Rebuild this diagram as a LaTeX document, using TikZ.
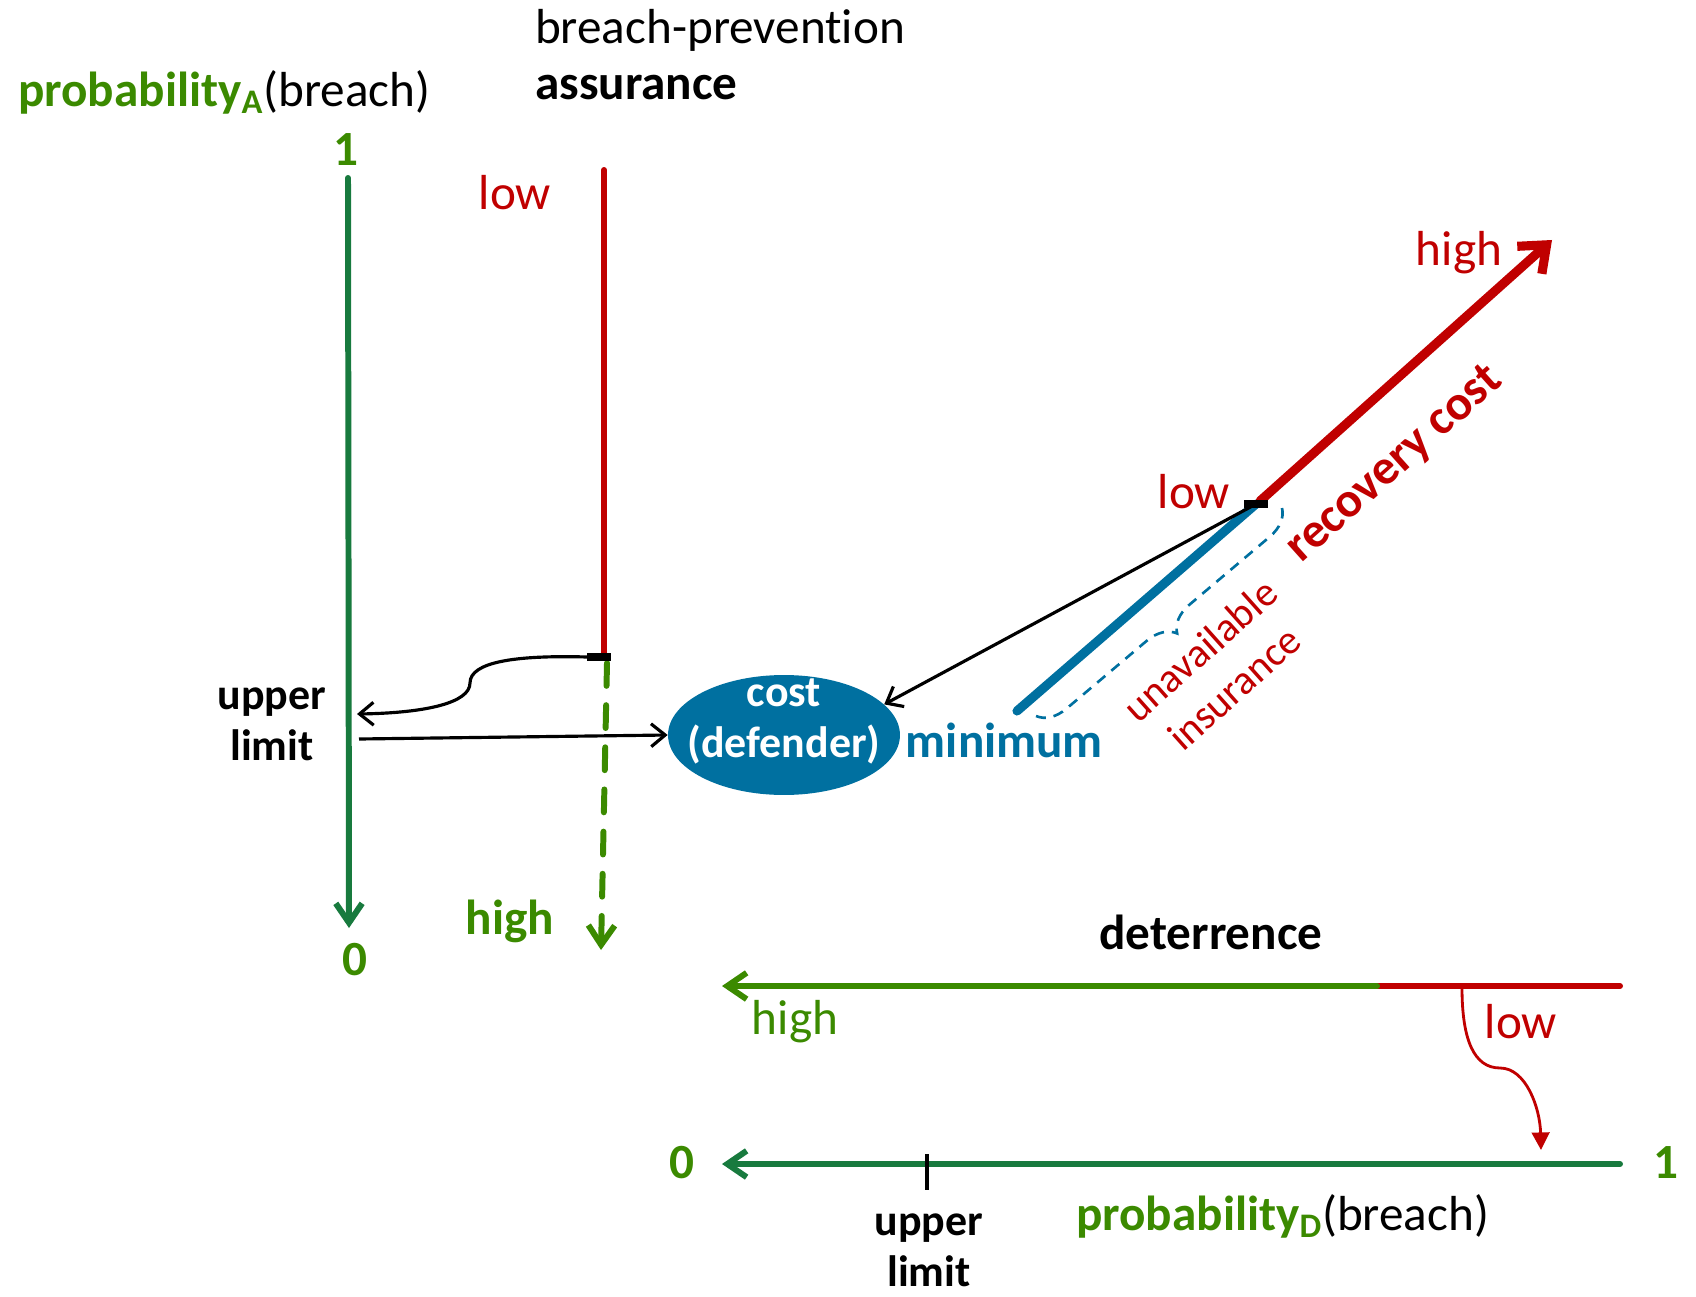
\documentclass[tikz,border=0pt]{standalone}
\usepackage{fontspec}
\setmainfont{Carlito}[Ligatures=NoCommon]
\usetikzlibrary{positioning}
\usetikzlibrary{arrows.meta}
\usetikzlibrary{shapes.geometric}
\usetikzlibrary{decorations.pathreplacing}

\definecolor{grntext}{RGB}{59,138,0}
\definecolor{grnaxis}{RGB}{24,122,62}
\definecolor{redline}{RGB}{192,0,0}
\definecolor{bluefill}{RGB}{0,112,160}

\newcommand{\bigfont}{\fontsize{28}{34}\selectfont}
\newcommand{\midfont}{\fontsize{25}{29}\selectfont}
\newcommand{\smallfont}{\fontsize{23.5}{29}\selectfont}

\begin{document}
\begin{tikzpicture}[x=0.02cm,y=-0.02cm,every node/.style={inner sep=1pt},
    axis line/.style={line width=3.4pt,line cap=round,-{Straight Barb[length=11pt,width=15pt]}},
    red bar/.style={line width=3.4pt,line cap=round,redline},
    link/.style={line width=1.8pt,-{Straight Barb[length=8pt,width=13pt]}},
    tick mark/.style={line width=5pt},
    big label/.style={font=\bigfont},
    bold label/.style={font=\bigfont\bfseries},
    limit label/.style={font=\midfont\bfseries,align=center}]

  \useasboundingbox (0,0) rectangle (1696,1297);

  % attacker axis
  \node[big label,anchor=west] (probA) at (16,92)
    {\textcolor{grntext}{\textbf{probability\textsubscript{A}}}(breach)};
  \node[bold label,text=grntext] (oneA) at (346,150) {1};
  \node[bold label,text=grntext] (zeroA) at (355,960) {0};
  \coordinate (axAtop) at (348,178);
  \coordinate (axAbot) at (349,928);
  \draw[axis line,grnaxis] (axAtop) -- (axAbot);
  \node[limit label] (ulA) at (272,724) {upper\\limit};

  % assurance axis
  \node[big label,anchor=west] (bp) at (533,30) {breach-prevention};
  \node[bold label,anchor=west] (assur) at (533,88) {assurance};
  \node[big label,text=redline] (lowA) at (515,193) {low};
  \node[bold label,text=grntext] (highA) at (510,921) {high};
  \coordinate (asTop) at (604,170);
  \coordinate (tickA) at (599,657);
  \coordinate (asBot) at (601,950);
  \draw[red bar] (asTop) -- (604,654);
  \draw[axis line,grntext,dash pattern=on 13pt off 11pt] (607,663) -- (asBot);
  \draw[tick mark] ([xshift=-0.24cm]tickA) -- ([xshift=0.24cm]tickA);

  % defender cost
  \node[ellipse,fill=bluefill,minimum width=4.64cm,minimum height=2.4cm] (cost) at (784,735) {};
  \node[text=white,font=\midfont\bfseries,align=center] (costtxt) at (784,721)
    {cost\\(defender)};
  \node[bold label,text=bluefill,right=2pt of cost,yshift=-0.1cm] (minim) {minimum};

  \coordinate (ulAin) at (357,714);
  \coordinate (ulAout) at (359,739);
  \draw[link] ([xshift=-0.24cm]tickA) .. controls (515,655) and (470,662) .. (470,683)
    .. controls (470,703) and (425,713) .. (ulAin);
  \draw[link] (ulAout) -- (cost.west);

  % recovery cost
  \coordinate (minEnd) at (1017,711);
  \coordinate (tickR) at (1256,504);
  \coordinate (recTop) at (1552,240);
  \draw[bluefill,line width=5.2pt,line cap=round] (minEnd) -- (tickR);
  \draw[redline,line width=5.2pt,line cap=round,
        -{Straight Barb[length=13pt,width=21pt]}] (1260,501) -- (recTop);
  \draw[tick mark] ([xshift=-0.24cm]tickR) -- ([xshift=0.24cm]tickR);
  \draw[link] (tickR) -- (cost.17);
  \draw[bluefill,line width=1.5pt,dash pattern=on 6pt off 4.5pt,
        decorate,decoration={brace,amplitude=16pt}] (1282,508) -- (1036,716);
  \node[big label,text=redline] (highR) at (1459,253) {high};
  \node[big label,text=redline] (lowR) at (1194,492) {low};
  \node[bold label,text=redline,rotate=41.8] (recov) at (1395,465) {recovery cost};
  \node[font=\smallfont,text=redline,align=center,rotate=41.8] (unins) at (1217,669)
    {unavailable\\insurance};

  % deterrence
  \node[bold label] (deter) at (1211,932) {deterrence};
  \coordinate (dRight) at (1620,986);
  \coordinate (dMid) at (1377,986);
  \coordinate (dLeft) at (722,986);
  \draw[red bar] (dRight) -- (dMid);
  \draw[axis line,grntext] (dMid) -- (dLeft);
  \node[big label,text=grntext] (highD) at (795,1022) {high};
  \node[big label,text=redline] (lowD) at (1521,1022) {low};

  % defender axis
  \coordinate (pDright) at (1620,1164);
  \coordinate (pDleft) at (722,1164);
  \coordinate (tickD) at (927,1172);
  \draw[axis line,grnaxis] (pDright) -- (pDleft);
  \draw[line width=2.8pt] ([yshift=0.36cm]tickD) -- ([yshift=-0.36cm]tickD);
  \node[bold label,text=grntext] (zeroD) at (682,1163) {0};
  \node[bold label,text=grntext] (oneD) at (1666,1163) {1};
  \node[limit label] (ulD) at (929,1250) {upper\\limit};
  \node[big label,anchor=west] (probD) at (1074,1216)
    {\textcolor{grntext}{\textbf{probability\textsubscript{D}}}(breach)};
  \draw[redline,line width=1.6pt,-{Triangle[length=10pt,width=10pt]}]
    (1462,988) .. controls (1462,1040) and (1474,1068) .. (1500,1068)
    .. controls (1526,1068) and (1540,1108) .. (1541,1150);
\end{tikzpicture}
\end{document}
